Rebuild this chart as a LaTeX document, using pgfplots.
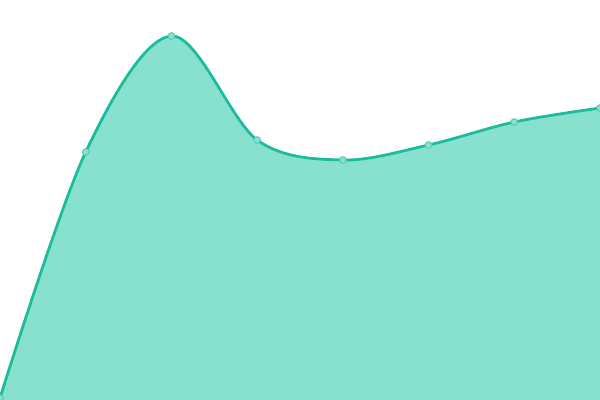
\documentclass[border=0pt]{standalone}
\usepackage{pgfplots}
\pgfplotsset{compat=1.18}
\definecolor{teal1}{HTML}{1ABC9C}
\definecolor{tealfill}{HTML}{88E0CF}
\definecolor{tealmark}{HTML}{8ADFCE}
\begin{document}
\begin{tikzpicture}
\begin{axis}[
    width=6in, height=4in,
    scale only axis,
    hide axis,
    xmin=0, xmax=7,
    ymin=0, ymax=400,
    clip=true,
    clip marker paths=true,
    ]
    \addplot[draw=none, fill=tealfill, smooth, tension=0.55, forget plot]
    coordinates {
        (0,2) (1,248) (2,364) (3,260) (4,240) (5,255) (6,278) (7,292)
    } \closedcycle;
    \addplot[draw=teal1, line width=2pt, smooth, tension=0.55,
        mark=*, mark size=2.4pt,
        mark options={fill=tealmark, draw=teal1!75!white, line width=0.7pt}]
    coordinates {
        (0,2) (1,248) (2,364) (3,260) (4,240) (5,255) (6,278) (7,292)
    };
\end{axis}
\useasboundingbox (current axis.south west) rectangle (current axis.north east);
\end{tikzpicture}
\end{document}
